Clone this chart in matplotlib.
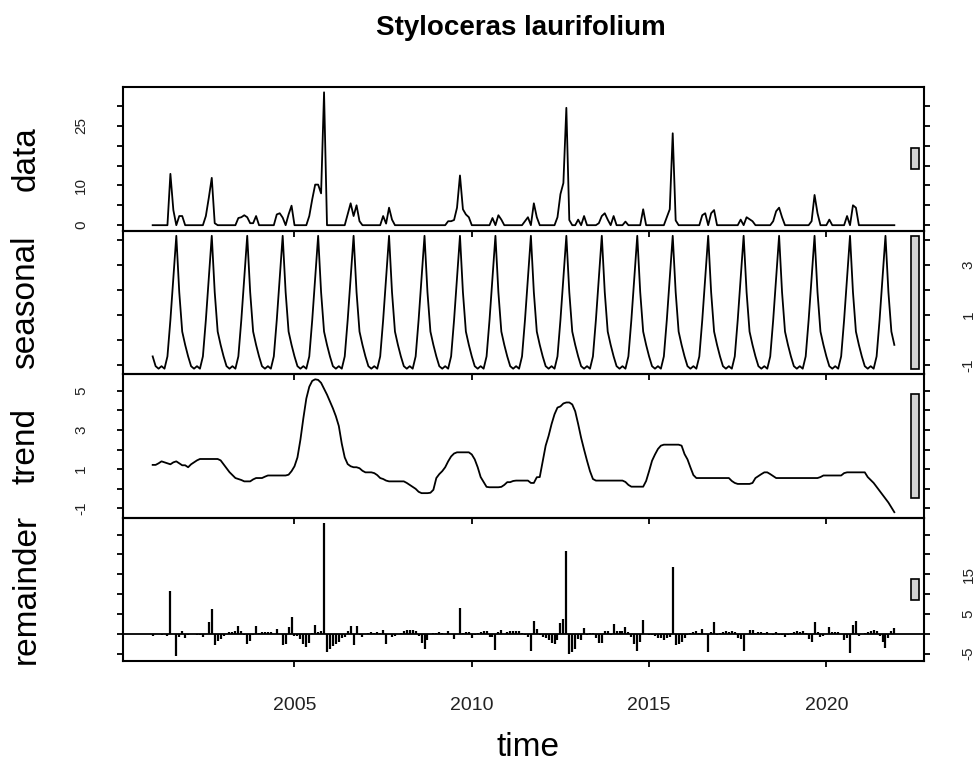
import numpy as np
import matplotlib.pyplot as plt
from matplotlib.patches import Rectangle

plt.rcParams['font.family'] = ['Liberation Sans', 'DejaVu Sans']

# monthly series starting January 2001, one line per year (Jan..Dec)
start_year = 2001
observed = [
    0, 0, 0, 0, 0, 0, 12.9, 3.8, 0, 2.3, 2.3, 0,          # 2001
    0, 0, 0, 0, 0, 0, 2.3, 6.9, 11.9, 0.5, 0, 0,          # 2002
    0, 0, 0, 0, 0, 1.8, 2, 2.5, 2, 0.5, 0.5, 2.3,         # 2003
    0, 0, 0, 0, 0, 0, 2.7, 3, 1.9, 0, 2.7, 4.9,           # 2004
    0, 0, 0, 0, 0, 2.3, 6.5, 10.2, 10.2, 8, 33.4, 0,      # 2005
    0, 0, 0, 0, 0, 0, 2.7, 5.5, 2.3, 5, 1, 0,             # 2006
    0, 0, 0, 0, 0, 0, 2.3, 0.4, 4.4, 1.4, 0, 0,           # 2007
    0, 0, 0, 0, 0, 0, 0, 0, 0, 0, 0, 0,                   # 2008
    0, 0, 0, 0, 1, 1, 1.3, 4.4, 12.5, 4, 2.7, 2,          # 2009
    0, 0, 0, 0, 0, 0, 0, 1.8, 0, 2.5, 1.4, 0,             # 2010
    0, 0, 0, 0, 0, 0, 1, 2, 0, 5.5, 2, 0,                 # 2011
    0, 0, 0, 0, 0, 2, 7.8, 10.6, 29.5, 1.3, 0, 0,         # 2012
    1.4, 0, 2.3, 0, 0, 0, 0, 0.5, 2.3, 3, 1.4, 0,         # 2013
    2.3, 0, 0, 0, 0.9, 0, 0, 0, 0, 0, 4, 0,               # 2014
    0, 0, 0, 0, 0, 0, 2, 4, 23.1, 1.2, 0, 0,              # 2015
    0, 0, 0, 0, 0, 0, 2.5, 3, 0, 3, 3.8, 0,               # 2016
    0, 0, 0, 0, 0, 0, 0, 1.4, 0, 2, 1.5, 1,               # 2017
    0, 0, 0, 0, 0, 0, 1, 3.5, 4.4, 2, 0, 0,               # 2018
    0, 0, 0, 0, 0, 0, 0, 1, 7.6, 3, 0, 0,                 # 2019
    0, 1.4, 0, 0, 0, 0, 0, 2.3, 0, 5, 4.4, 0,             # 2020
    0, 0, 0, 0, 0, 0, 0, 0, 0, 0, 0, 0,                   # 2021
]

# periodic seasonal component (Jan..Dec)
seasonal_cycle = [-0.66, -1.05, -1.15, -1.05, -1.15, -0.66,
                  0.79, 2.5, 4.15, 1.9, 0.33, -0.2]

trend = [
    1.22, 1.22, 1.3, 1.4, 1.35, 1.3, 1.25, 1.35, 1.4, 1.3, 1.2, 1.2,           # 2001
    1.1, 1.25, 1.35, 1.45, 1.52, 1.52, 1.52, 1.52, 1.52, 1.52, 1.52, 1.45,     # 2002
    1.25, 1.05, 0.85, 0.7, 0.55, 0.5, 0.45, 0.38, 0.38, 0.38, 0.48, 0.55,      # 2003
    0.55, 0.55, 0.62, 0.68, 0.68, 0.68, 0.68, 0.68, 0.68, 0.68, 0.72, 0.9,     # 2004
    1.15, 1.6, 2.5, 3.6, 4.6, 5.2, 5.5, 5.58, 5.55, 5.4, 5.1, 4.8,             # 2005
    4.45, 4.1, 3.7, 3.2, 2.3, 1.6, 1.26, 1.15, 1.1, 1.1, 1.05, 0.92,           # 2006
    0.84, 0.84, 0.84, 0.8, 0.7, 0.55, 0.5, 0.42, 0.38, 0.38, 0.38, 0.38,       # 2007
    0.38, 0.38, 0.3, 0.2, 0.1, 0.0, -0.15, -0.22, -0.22, -0.22, -0.2, -0.05,   # 2008
    0.55, 0.75, 0.9, 1.1, 1.4, 1.65, 1.8, 1.86, 1.86, 1.86, 1.86, 1.86,        # 2009
    1.75, 1.5, 1.1, 0.6, 0.35, 0.1, 0.08, 0.08, 0.08, 0.08, 0.1, 0.2,          # 2010
    0.34, 0.34, 0.4, 0.42, 0.42, 0.42, 0.42, 0.42, 0.3, 0.3, 0.59, 0.6,        # 2011
    1.4, 2.2, 2.7, 3.3, 3.8, 4.14, 4.2, 4.35, 4.4, 4.4, 4.3, 3.95,             # 2012
    3.3, 2.6, 2.0, 1.43, 0.9, 0.5, 0.42, 0.42, 0.42, 0.42, 0.42, 0.42,         # 2013
    0.42, 0.42, 0.42, 0.42, 0.35, 0.2, 0.11, 0.11, 0.11, 0.11, 0.11, 0.4,      # 2014
    0.9, 1.43, 1.75, 2.03, 2.2, 2.25, 2.25, 2.25, 2.25, 2.25, 2.25, 2.2,       # 2015
    1.77, 1.5, 1.09, 0.7, 0.55, 0.55, 0.55, 0.55, 0.55, 0.55, 0.55, 0.55,      # 2016
    0.55, 0.55, 0.55, 0.55, 0.4, 0.3, 0.25, 0.25, 0.25, 0.25, 0.25, 0.3,       # 2017
    0.55, 0.65, 0.75, 0.84, 0.84, 0.75, 0.65, 0.55, 0.55, 0.55, 0.55, 0.55,    # 2018
    0.55, 0.55, 0.55, 0.55, 0.55, 0.55, 0.55, 0.55, 0.55, 0.55, 0.6, 0.68,     # 2019
    0.68, 0.68, 0.68, 0.68, 0.68, 0.68, 0.8, 0.84, 0.84, 0.84, 0.84, 0.84,     # 2020
    0.84, 0.84, 0.6, 0.45, 0.3, 0.1, -0.1, -0.3, -0.5, -0.7, -0.95, -1.19,     # 2021
]

panel_names = ['data', 'seasonal', 'trend', 'remainder']
year_ticks = [2005, 2010, 2015, 2020]
y_ticks = [np.arange(0, 31, 5), np.arange(-1, 5, 1),
           np.arange(-1, 6, 1), np.arange(-5, 26, 5)]
y_labels_shown = [[0, 10, 25], [-1, 1, 3], [-1, 1, 3, 5], [-5, 5, 15]]

observed = np.array(observed, dtype=float)
trend = np.array(trend, dtype=float)
time = start_year + np.arange(len(observed)) / 12
seasonal = np.tile(seasonal_cycle, len(observed) // 12)
remainder = observed - seasonal - trend
series = [observed, seasonal, trend, remainder]

# range bars use the smallest component range
ranges = [s.max() - s.min() for s in series]
mx = min(ranges)

W, H = 979, 769
fig = plt.figure(figsize=(W / 100, H / 100), dpi=100)
left, right = 123, 924
top, bottom = 87, 661
ph = (bottom - top) / 4

t_pad = 0.04 * (time[-1] - time[0])
xlim = (time[0] - t_pad, time[-1] + t_pad)

for i, y in enumerate(series):
    y0 = top + i * ph
    ax = fig.add_axes([left / W, 1 - (y0 + ph) / H, (right - left) / W, ph / H])
    ax.set_facecolor('none')
    lo, hi = y.min(), y.max()
    pad = 0.04 * (hi - lo)
    ax.set_xlim(xlim)
    ax.set_ylim(lo - pad, hi + pad)

    if i < 3:
        ax.plot(time, y, color='black', lw=1.3)
    else:
        ax.axhline(0, color='black', lw=1.3)
        ax.vlines(time, 0, y, color='black', lw=1.6)

    dx = (xlim[1] - xlim[0]) / 64
    ymid = (lo + hi) / 2
    ax.add_patch(Rectangle((xlim[1] - dx, ymid - mx / 2), 0.6 * dx, mx,
                           facecolor='#d3d3d3', edgecolor='black', lw=1.2,
                           clip_on=False, zorder=3))

    for sp in ax.spines.values():
        sp.set_linewidth(1.5)

    on_right = i % 2 == 1
    ax.set_yticks(y_ticks[i])
    ax.set_yticklabels([str(v) if v in y_labels_shown[i] else ''
                        for v in y_ticks[i]])
    ax.tick_params(axis='y', which='both', left=True, right=True,
                   labelleft=not on_right, labelright=on_right,
                   direction='out', length=4, width=1.3,
                   pad=23 if on_right else 21,
                   labelsize=11, labelcolor='#222222')
    for lab in ax.get_yticklabels():
        lab.set_rotation(90)
        lab.set_verticalalignment('center')

    ax.set_xticks(year_ticks)
    ax.tick_params(axis='x', direction='out', length=4, width=1.3,
                   labelbottom=(i == 3), pad=22, labelsize=14,
                   labelcolor='#222222')

    fig.text(26 / W, 1 - (y0 + ph / 2) / H, panel_names[i], rotation=90,
             ha='center', va='center', fontsize=24)

fig.text(528 / W, 1 - 748 / H, 'time', ha='center', va='center', fontsize=24)
fig.text(521 / W, 1 - 28 / H, 'Styloceras laurifolium', ha='center',
         va='center', fontsize=20, fontweight='bold')

fig.savefig('out.png', dpi=100)
